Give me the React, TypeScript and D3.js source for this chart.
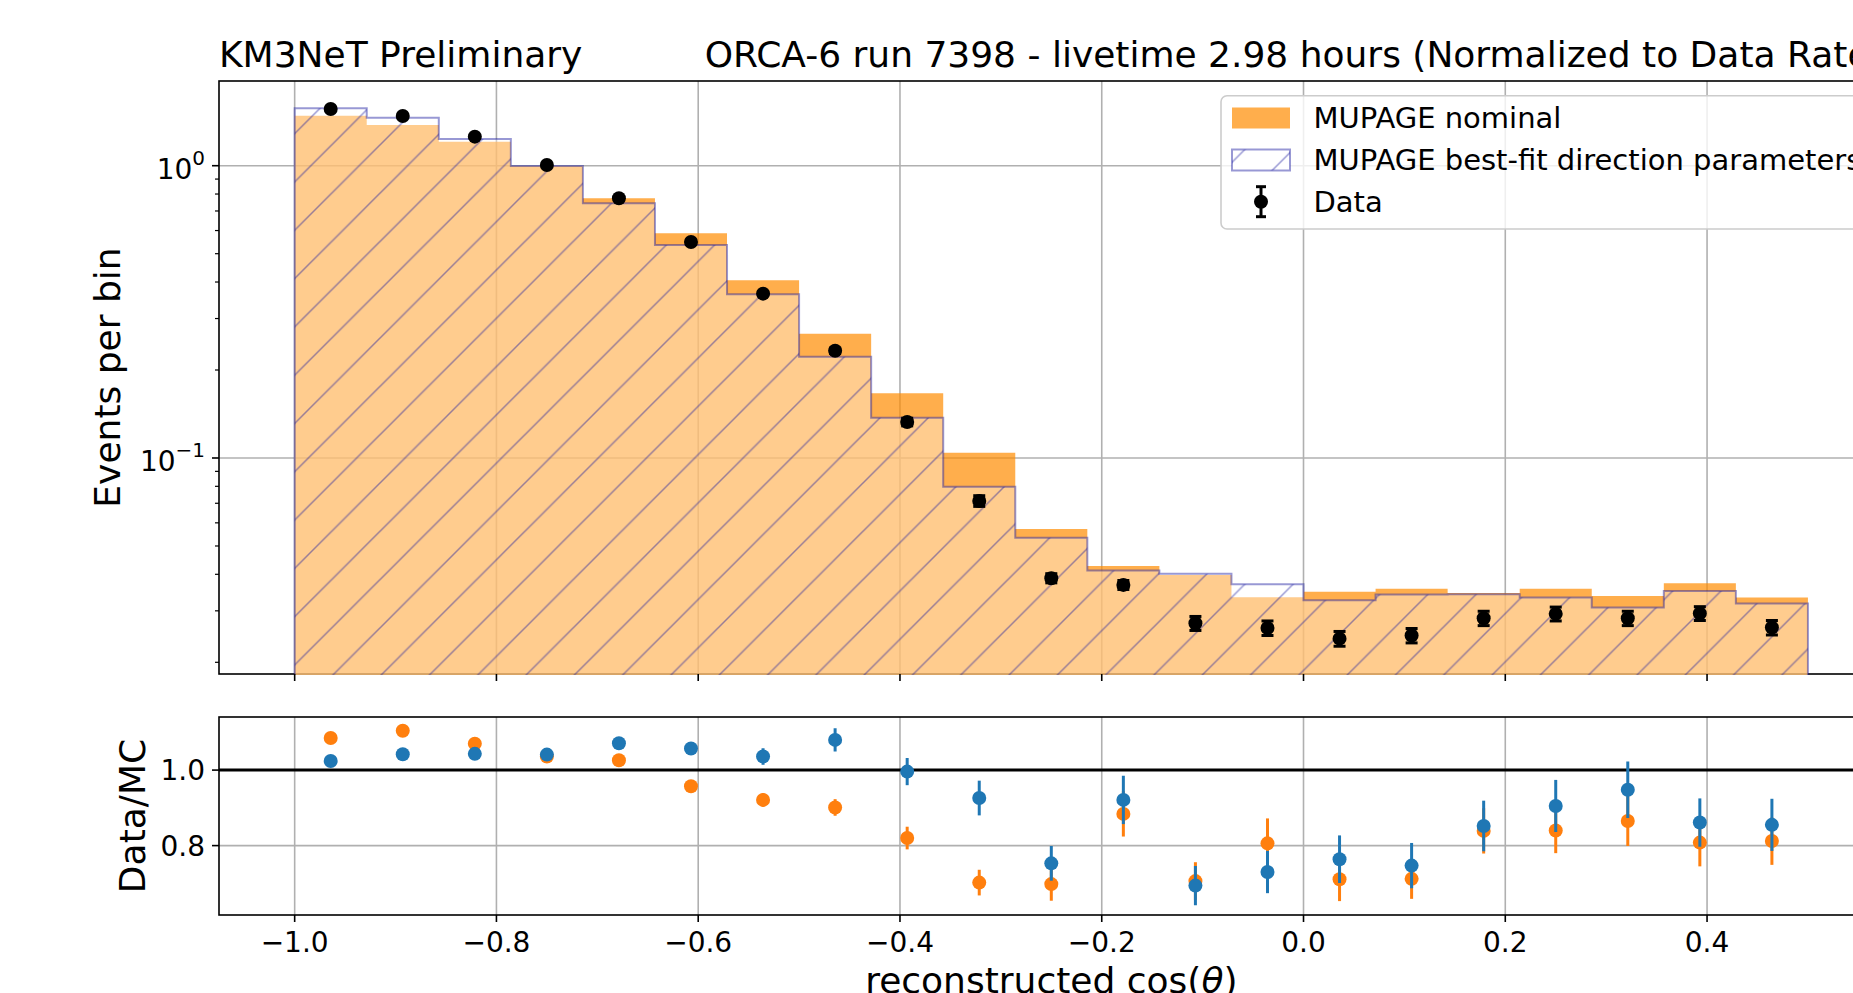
import React from 'react';
import * as d3 from 'd3';

// ---------- data ----------
const binEdges = [
  -1.0, -0.92857, -0.85714, -0.78571, -0.71429, -0.64286, -0.57143, -0.5,
  -0.42857, -0.35714, -0.28571, -0.21429, -0.14286, -0.07143, 0.0, 0.07143,
  0.14286, 0.21429, 0.28571, 0.35714, 0.42857, 0.5,
];
const mcNominal = [
  1.483, 1.378, 1.208, 0.998, 0.774, 0.587, 0.406, 0.266, 0.1665, 0.1042, 0.0572,
  0.0427, 0.0398, 0.0334, 0.0349, 0.0357, 0.0345, 0.0357, 0.0337, 0.0373, 0.0333,
];
const mcBestFit = [
  1.572, 1.46, 1.234, 0.998, 0.744, 0.5355, 0.363, 0.222, 0.1374, 0.0798, 0.0534,
  0.0412, 0.0402, 0.037, 0.0326, 0.0341, 0.0342, 0.0333, 0.0308, 0.0351, 0.0318,
];
const dataCounts = [
  1.563, 1.479, 1.257, 1.006, 0.774, 0.548, 0.365, 0.2328, 0.1328, 0.0713, 0.0388,
  0.0368, 0.0272, 0.0262, 0.0241, 0.0247, 0.0283, 0.0293, 0.0283, 0.0294, 0.0263,
];
const dataErr = [
  0.012, 0.012, 0.011, 0.01, 0.009, 0.008, 0.006, 0.005, 0.004, 0.003, 0.0014,
  0.0013, 0.0015, 0.0015, 0.0014, 0.0014, 0.0016, 0.0016, 0.0016, 0.0016, 0.0015,
];
const ratioNominal = [
  1.085, 1.104, 1.07, 1.036, 1.026, 0.957, 0.921, 0.901, 0.82, 0.702, 0.698,
  0.884, 0.706, 0.806, 0.711, 0.712, 0.839, 0.84, 0.865, 0.808, 0.812,
];
const ratioNominalErr = [
  0.01, 0.01, 0.01, 0.01, 0.012, 0.012, 0.018, 0.022, 0.03, 0.034, 0.044,
  0.06, 0.05, 0.066, 0.058, 0.053, 0.06, 0.06, 0.066, 0.063, 0.063,
];
const ratioBestFit = [
  1.024, 1.042, 1.043, 1.041, 1.071, 1.057, 1.036, 1.08, 0.996, 0.926, 0.753,
  0.921, 0.694, 0.73, 0.764, 0.747, 0.852, 0.905, 0.948, 0.861, 0.855,
];
const ratioBestFitErr = [
  0.008, 0.009, 0.01, 0.01, 0.012, 0.013, 0.022, 0.031, 0.036, 0.046, 0.046,
  0.064, 0.052, 0.056, 0.063, 0.06, 0.067, 0.069, 0.075, 0.064, 0.069,
];
const xTicks = [-1.0, -0.8, -0.6, -0.4, -0.2, 0.0, 0.2, 0.4];
const xTickLabels = ['−1.0', '−0.8', '−0.6', '−0.4', '−0.2', '0.0', '0.2', '0.4'];
const yTopMajor = [1, 0.1];
const yTopMajorExp = ['0', '−1'];
const yTopMinor = [0.02, 0.03, 0.04, 0.05, 0.06, 0.07, 0.08, 0.09, 0.2, 0.3, 0.4, 0.5, 0.6, 0.7, 0.8, 0.9];
const yBotTicks = [1.0, 0.8];
const yBotTickLabels = ['1.0', '0.8'];

// ---------- layout ----------
const W = 1853;
const H = 993;
const AX_L = 219;
const AX_R = 1883.6;
const TOP_T = 81;
const TOP_B = 674;
const BOT_T = 717;
const BOT_B = 915;
const FONT = "'DejaVu Sans', sans-serif";
const GRID = '#b0b0b0';
const ORANGE_FILL = '#ff8c00';
const HATCH = '#1a1aa0';
const C_BLUE = '#1f77b4';
const C_ORANGE = '#ff7f0e';

export default function App() {
  const x = d3.scaleLinear().domain([-1.075, 0.575]).range([AX_L, AX_R]);
  const yTop = d3.scaleLog().domain([0.018239, 1.9489]).range([TOP_B, TOP_T]);
  const yBot = d3.scaleLinear().domain([0.6162, 1.1406]).range([BOT_B, BOT_T]);
  const centers = binEdges.slice(0, -1).map((e, i) => (e + binEdges[i + 1]) / 2);

  const stepPath = (vals: number[]) => {
    const pts: [number, number][] = vals.map((v, i) => [x(binEdges[i]), yTop(v)]);
    pts.push([x(binEdges[binEdges.length - 1]), yTop(vals[vals.length - 1])]);
    const ln = d3.line().curve(d3.curveStepAfter)(pts) as string;
    const bottom = TOP_B + 40;
    return `M${x(binEdges[0])},${bottom}L${ln.slice(1)}L${x(binEdges[binEdges.length - 1])},${bottom}Z`;
  };
  const nomPath = stepPath(mcNominal);
  const bfPath = stepPath(mcBestFit);

  const hs = 48.3;

  const errBars = (
    vals: number[],
    errs: number[],
    ys: (v: number) => number,
    color: string,
    r: number,
    cap: number,
    key: string,
  ) =>
    vals.map((v, i) => {
      const cx = x(centers[i]);
      const y1 = ys(v + errs[i]);
      const y0 = ys(v - errs[i]);
      return (
        <g key={key + i}>
          <line x1={cx} x2={cx} y1={y0} y2={y1} stroke={color} strokeWidth={3} />
          {cap > 0 && (
            <>
              <line x1={cx - cap} x2={cx + cap} y1={y0} y2={y0} stroke={color} strokeWidth={3} />
              <line x1={cx - cap} x2={cx + cap} y1={y1} y2={y1} stroke={color} strokeWidth={3} />
            </>
          )}
          <circle cx={cx} cy={ys(v)} r={r} fill={color} />
        </g>
      );
    });

  return (
    <svg
      width={W}
      height={H}
      style={{ position: 'absolute', left: 0, top: 0, display: 'block', background: '#fff' }}
      fontFamily={FONT}
    >
      <defs>
        <pattern id="hatch" patternUnits="userSpaceOnUse" x={41.9} y={0} width={hs} height={hs}>
          <path
            d={`M0,${hs}L${hs},0M${-hs / 4},${hs / 4}L${hs / 4},${-hs / 4}M${hs * 0.75},${hs * 1.25}L${hs * 1.25},${hs * 0.75}`}
            stroke={HATCH}
            strokeOpacity={0.45}
            strokeWidth={1.5}
            fill="none"
          />
        </pattern>
        <clipPath id="clipTop">
          <rect x={AX_L} y={TOP_T} width={AX_R - AX_L} height={TOP_B - TOP_T + 1} />
        </clipPath>
        <clipPath id="clipBot">
          <rect x={AX_L} y={BOT_T} width={AX_R - AX_L} height={BOT_B - BOT_T} />
        </clipPath>
      </defs>
      <rect x={0} y={0} width={W} height={H} fill="#fff" />

      {/* titles */}
      <text x={AX_L} y={67} fontSize={36} fill="#000">KM3NeT Preliminary</text>
      <text x={AX_R} y={67} fontSize={36} textAnchor="end" fill="#000">
        ORCA-6 run 7398 - livetime 2.98 hours (Normalized to Data Rate)
      </text>

      {/* ---------- top panel ---------- */}
      <g>
        {xTicks.map((t) => (
          <line key={'gxt' + t} x1={x(t)} x2={x(t)} y1={TOP_T} y2={TOP_B} stroke={GRID} strokeWidth={1.6} />
        ))}
        {yTopMajor.map((t) => (
          <line key={'gyt' + t} x1={AX_L} x2={AX_R} y1={yTop(t)} y2={yTop(t)} stroke={GRID} strokeWidth={1.6} />
        ))}
        {/* spines */}
        <rect x={AX_L} y={TOP_T} width={AX_R - AX_L} height={TOP_B - TOP_T} fill="none" stroke="#000" strokeWidth={1.6} />
        <g clipPath="url(#clipTop)">
          <path d={nomPath} fill={ORANGE_FILL} fillOpacity={0.7} />
          <path d={bfPath} fill="#fff" fillOpacity={0.37} />
          <path d={bfPath} fill="url(#hatch)" />
          <path d={bfPath} fill="none" stroke={HATCH} strokeOpacity={0.45} strokeWidth={2} />
        </g>
        {errBars(dataCounts, dataErr, yTop, '#000', 7, 6, 'd')}
        {/* ticks */}
        {xTicks.map((t) => (
          <line key={'xt' + t} x1={x(t)} x2={x(t)} y1={TOP_B} y2={TOP_B + 7} stroke="#000" strokeWidth={1.6} />
        ))}
        {yTopMajor.map((t, i) => (
          <g key={'yt' + t}>
            <line x1={AX_L - 7} x2={AX_L} y1={yTop(t)} y2={yTop(t)} stroke="#000" strokeWidth={1.6} />
            <text x={AX_L - 14} y={yTop(t) + 13} fontSize={28} textAnchor="end" fill="#000">
              10
              <tspan fontSize={20} dy={-14}>{yTopMajorExp[i]}</tspan>
            </text>
          </g>
        ))}
        {yTopMinor.map((t) => (
          <line key={'ymt' + t} x1={AX_L - 4} x2={AX_L} y1={yTop(t)} y2={yTop(t)} stroke="#000" strokeWidth={1.2} />
        ))}
        <text
          transform={`translate(120,${(TOP_T + TOP_B) / 2}) rotate(-90)`}
          fontSize={36}
          textAnchor="middle"
          fill="#000"
        >
          Events per bin
        </text>

        {/* legend */}
        <rect x={1221} y={95.7} width={1869.6 - 1221} height={229 - 95.7} rx={6} fill="#fff" fillOpacity={0.8} stroke="#cccccc" strokeWidth={1.6} />
        <rect x={1232} y={107.5} width={58} height={21} fill={ORANGE_FILL} fillOpacity={0.7} />
        <text x={1313.5} y={128.3} fontSize={29} fill="#000">MUPAGE nominal</text>
        <rect x={1232} y={149.5} width={58} height={21} fill="#fff" />
        <rect x={1232} y={149.5} width={58} height={21} fill="url(#hatch)" stroke={HATCH} strokeOpacity={0.45} strokeWidth={2} />
        <text x={1313.5} y={170} fontSize={29} fill="#000">MUPAGE best-fit direction parameters</text>
        <line x1={1261} x2={1261} y1={186.7} y2={216.7} stroke="#000" strokeWidth={3} />
        <line x1={1256} x2={1266} y1={186.7} y2={186.7} stroke="#000" strokeWidth={3} />
        <line x1={1256} x2={1266} y1={216.7} y2={216.7} stroke="#000" strokeWidth={3} />
        <circle cx={1261} cy={201.7} r={7} fill="#000" />
        <text x={1313.5} y={211.7} fontSize={29} fill="#000">Data</text>
      </g>

      {/* ---------- bottom panel ---------- */}
      <g>
        {xTicks.map((t) => (
          <line key={'bgx' + t} x1={x(t)} x2={x(t)} y1={BOT_T} y2={BOT_B} stroke={GRID} strokeWidth={1.6} />
        ))}
        {yBotTicks.map((t) => (
          <line key={'bgy' + t} x1={AX_L} x2={AX_R} y1={yBot(t)} y2={yBot(t)} stroke={GRID} strokeWidth={1.6} />
        ))}
        <line x1={AX_L} x2={AX_R} y1={yBot(1)} y2={yBot(1)} stroke="#000" strokeWidth={3} />
        <g clipPath="url(#clipBot)">
          {errBars(ratioNominal, ratioNominalErr, yBot, C_ORANGE, 7, 0, 'rn')}
          {errBars(ratioBestFit, ratioBestFitErr, yBot, C_BLUE, 7, 0, 'rb')}
        </g>
        <rect x={AX_L} y={BOT_T} width={AX_R - AX_L} height={BOT_B - BOT_T} fill="none" stroke="#000" strokeWidth={1.6} />
        {xTicks.map((t, i) => (
          <g key={'bxt' + t}>
            <line x1={x(t)} x2={x(t)} y1={BOT_B} y2={BOT_B + 7} stroke="#000" strokeWidth={1.6} />
            <text x={x(t)} y={952} fontSize={28} textAnchor="middle" fill="#000">
              {xTickLabels[i]}
            </text>
          </g>
        ))}
        {yBotTicks.map((t, i) => (
          <g key={'byt' + t}>
            <line x1={AX_L - 7} x2={AX_L} y1={yBot(t)} y2={yBot(t)} stroke="#000" strokeWidth={1.6} />
            <text x={AX_L - 14} y={yBot(t) + 10} fontSize={28} textAnchor="end" fill="#000">
              {yBotTickLabels[i]}
            </text>
          </g>
        ))}
        <text
          transform={`translate(145,${(BOT_T + BOT_B) / 2}) rotate(-90)`}
          fontSize={36}
          textAnchor="middle"
          fill="#000"
        >
          Data/MC
        </text>
        <text x={(AX_L + AX_R) / 2} y={993} fontSize={36} textAnchor="middle" fill="#000">
          reconstructed cos(<tspan fontStyle="italic">θ</tspan>)
        </text>
      </g>
    </svg>
  );
}
